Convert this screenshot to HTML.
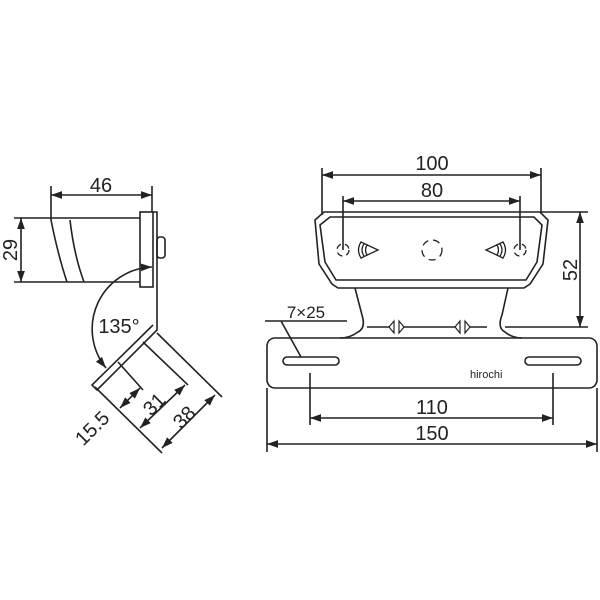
<!DOCTYPE html>
<html><head><style>body{margin:0;background:#fff}svg{display:block}</style></head><body>
<svg width="600" height="600" viewBox="0 0 600 600" xmlns="http://www.w3.org/2000/svg" font-family="Liberation Sans, sans-serif" fill="none" stroke="#222" stroke-width="1.6">
<defs><marker id="a" viewBox="0 0 10 10" refX="10" refY="5" markerWidth="7" markerHeight="7" orient="auto-start-reverse"><path d="M0,1.5L10,5L0,8.5z" fill="#222" stroke="none"/></marker></defs>
<!-- LEFT VIEW -->
<line x1="51" y1="186" x2="51" y2="220"/><line x1="152" y1="186" x2="152" y2="212"/>
<line x1="51" y1="195" x2="152" y2="195" marker-start="url(#a)" marker-end="url(#a)"/>
<text x="101" y="192" font-size="20" fill="#222" stroke="none" text-anchor="middle">46</text>
<line x1="14" y1="218" x2="140" y2="218"/><line x1="14" y1="282" x2="140" y2="282"/>
<line x1="21" y1="218" x2="21" y2="282" marker-start="url(#a)" marker-end="url(#a)"/>
<text transform="translate(17,250) rotate(-90)" font-size="20" fill="#222" stroke="none" text-anchor="middle">29</text>
<path d="M51,220 Q58,255 67,282 M70,220 Q74,255 84,282"/>
<rect x="140" y="212" width="13" height="75"/>
<path d="M153,212 L157,212 L157,330 L97,390 L92,385 L153,325"/>
<rect x="157" y="237" width="8" height="21" rx="3"/>
<path d="M152,267 A62,62 0 0 0 106,368" marker-end="url(#a)" marker-start="url(#a)"/>
<text x="119" y="333" font-size="20" fill="#222" stroke="none" text-anchor="middle">135°</text>
<line x1="157" y1="333" x2="222" y2="397"/>
<line x1="143" y1="342" x2="188" y2="385"/>
<line x1="118" y1="362" x2="143" y2="390"/>
<line x1="95" y1="387" x2="162" y2="453"/>
<line x1="120" y1="408" x2="140" y2="388" marker-start="url(#a)" marker-end="url(#a)"/>
<line x1="140" y1="428" x2="185" y2="385" marker-start="url(#a)" marker-end="url(#a)"/>
<line x1="162" y1="448" x2="215" y2="395" marker-start="url(#a)" marker-end="url(#a)"/>
<g fill="#222" stroke="none" font-size="20" text-anchor="middle">
<text transform="translate(97,433) rotate(-45)">15.5</text>
<text transform="translate(159,409) rotate(-45)">31</text>
<text transform="translate(189,422) rotate(-45)">38</text>
</g>
<!-- RIGHT VIEW -->
<line x1="322" y1="168" x2="322" y2="215"/><line x1="541" y1="168" x2="541" y2="212"/>
<line x1="322" y1="175" x2="541" y2="175" marker-start="url(#a)" marker-end="url(#a)"/>
<text x="432" y="170" font-size="20" fill="#222" stroke="none" text-anchor="middle">100</text>
<line x1="343" y1="196" x2="343" y2="250"/><line x1="520" y1="196" x2="520" y2="250"/>
<line x1="343" y1="201" x2="520" y2="201" marker-start="url(#a)" marker-end="url(#a)"/>
<text x="432" y="197" font-size="20" fill="#222" stroke="none" text-anchor="middle">80</text>
<path d="M324,212 L540,212 L548,220 L543,264 L530,284 L524,288 L338,288 L332,284 L319,264 L315,220 Z"/>
<path d="M330,217 L534,217 L542,225 L537,262 L526,280 L336,280 L325,262 L320,225 Z"/>
<path d="M355,288 L362,315 Q366,328 358,332 Q350,338 340,338 M508,288 L502,315 Q497,328 505,332 Q512,338 522,338"/>
<rect x="267" y="338" width="330" height="50" rx="8"/>
<rect x="283" y="357" width="56" height="8" rx="4"/>
<rect x="525" y="357" width="56" height="8" rx="4"/>
<path d="M367,327 L389,327 M404,327 L455,327 M470,327 L487,327"/>
<path d="M389,327 L394,321 L394,333 Z M404,327 L399,321 L399,333 Z M455,327 L460,321 L460,333 Z M470,327 L465,321 L465,333 Z" stroke-width="1.2"/>
<g stroke-width="1.3">
<circle cx="343" cy="250" r="6" stroke-dasharray="6 4"/><circle cx="520" cy="250" r="6" stroke-dasharray="6 4"/>
<circle cx="432" cy="250" r="10" stroke-dasharray="7 5"/>
<path d="M378,250 L361,242 Q356,250 361,258 Z M486,250 L503,242 Q508,250 503,258 Z M364,244 Q360,250 364,256 M367,245 Q364,250 367,255 M500,244 Q504,250 500,256 M497,245 Q500,250 497,255"/>
</g>
<line x1="540" y1="212" x2="588" y2="212"/><line x1="505" y1="327" x2="588" y2="327"/>
<line x1="580" y1="212" x2="580" y2="327" marker-start="url(#a)" marker-end="url(#a)"/>
<text transform="translate(577,270) rotate(-90)" font-size="20" fill="#222" stroke="none" text-anchor="middle">52</text>
<text x="306" y="318" font-size="17" fill="#222" stroke="none" text-anchor="middle">7×25</text>
<path d="M265,321 L347,321 M281,321 L301,357"/>
<text x="470" y="378" font-size="11" fill="#222" stroke="none">hirochi</text>
<line x1="310" y1="373" x2="310" y2="425"/><line x1="553" y1="373" x2="553" y2="425"/>
<line x1="310" y1="418" x2="553" y2="418" marker-start="url(#a)" marker-end="url(#a)"/>
<text x="432" y="414" font-size="20" fill="#222" stroke="none" text-anchor="middle">110</text>
<line x1="267" y1="388" x2="267" y2="452"/><line x1="597" y1="388" x2="597" y2="452"/>
<line x1="267" y1="444" x2="597" y2="444" marker-start="url(#a)" marker-end="url(#a)"/>
<text x="432" y="440" font-size="20" fill="#222" stroke="none" text-anchor="middle">150</text>
</svg>
</body></html>
